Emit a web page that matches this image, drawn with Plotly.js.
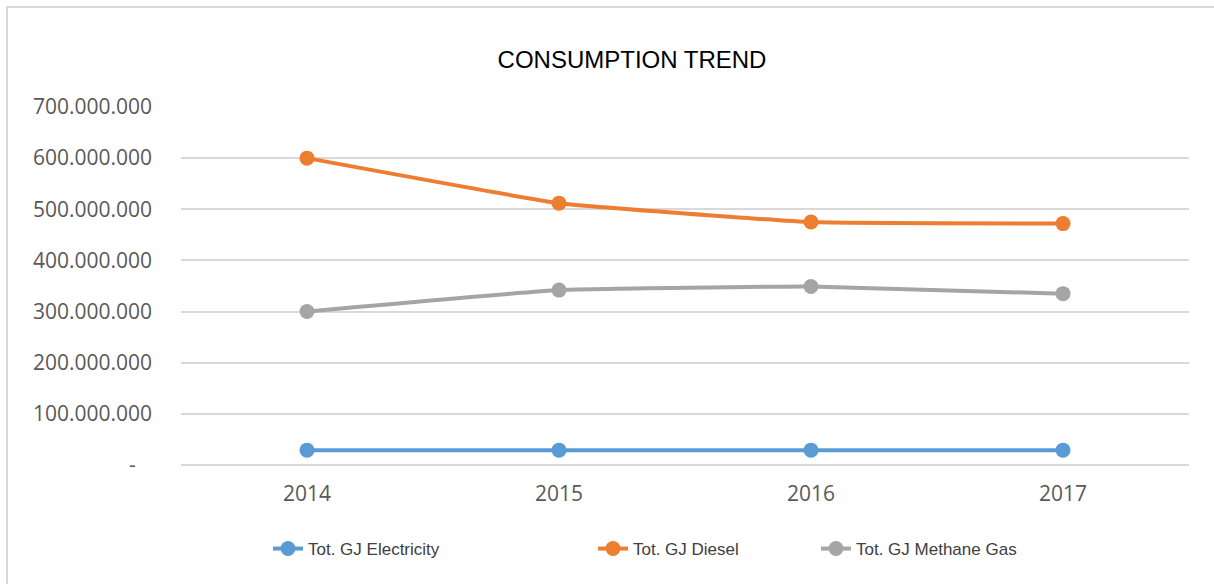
<!DOCTYPE html>
<html>
<head>
<meta charset="utf-8">
<script src="https://cdn.plot.ly/plotly-3.0.1.min.js"></script>
<style>
  html, body { margin: 0; padding: 0; background: #ffffff; }
  #wrap { position: relative; width: 1214px; height: 584px; overflow: hidden; }
  #chart { position: absolute; left: 0; top: 0; width: 1214px; height: 584px; }
  #frame { position: absolute; left: 6px; top: 6px; width: 1220px; height: 600px;
           border-left: 2px solid #d9d9d9; border-top: 2px solid #d9d9d9; pointer-events: none; }
</style>
</head>
<body>
<div id="wrap">
  <div id="chart"></div>
  <div id="frame"></div>
</div>
<script>
// ---- data ----
const years = ["2014", "2015", "2016", "2017"];
const electricity = [29000000, 29000000, 29000000, 29000000];
const diesel = [600000000, 512000000, 475000000, 472000000];
const methane = [300000000, 342000000, 349000000, 335000000];
const seriesNames = ["Tot. GJ Electricity", "Tot. GJ Diesel", "Tot. GJ Methane Gas"];
const yTickVals = [0, 100000000, 200000000, 300000000, 400000000, 500000000, 600000000, 700000000];
const yTickText = ["-\u00a0\u00a0\u00a0", "100.000.000", "200.000.000", "300.000.000", "400.000.000", "500.000.000", "600.000.000", "700.000.000"];
const chartTitle = "CONSUMPTION TREND";

const colors = ["#5B9BD5", "#ED7D31", "#A5A5A5"];
const allSeries = [electricity, diesel, methane];
const legendIds = ["legend", "legend2", "legend3"];

const traces = allSeries.map((vals, i) => ({
  type: "scatter",
  mode: "lines+markers",
  x: years,
  y: vals,
  name: seriesNames[i],
  legend: legendIds[i],
  line: { color: colors[i], width: 4, shape: "spline", smoothing: 0.3 },
  marker: { color: colors[i], size: 15 },
  hoverinfo: "x+y+name"
}));

const W = 1214, H = 584;
const L = 181, R = 25, T = 107, B = 119;
const pw = W - L - R, ph = H - T - B;
function px(x) { return (x - L) / pw; }
function py(y) { return (H - B - y) / ph; }

const legFont = { family: "'Liberation Sans', Arial, sans-serif", size: 17, color: "#404040" };
function legendAt(xpx) {
  return {
    orientation: "h", x: px(xpx), xanchor: "left", y: py(549), yanchor: "middle",
    font: legFont, bgcolor: "rgba(0,0,0,0)", borderwidth: 0, itemwidth: 30
  };
}

const layout = {
  width: W, height: H,
  paper_bgcolor: "#ffffff", plot_bgcolor: "#ffffff",
  margin: { l: L, r: R, t: T, b: B, pad: 0 },
  title: {
    text: chartTitle,
    font: { family: "'Liberation Sans Narrow', 'Arial Narrow', 'Liberation Sans', sans-serif", size: 24, color: "#000000" },
    x: 632 / W, xref: "container", xanchor: "center",
    y: (H - 60) / H, yref: "container", yanchor: "middle"
  },
  xaxis: {
    type: "category",
    range: [-0.5, 3.5],
    showgrid: false, zeroline: false, showline: false, ticks: "",
    tickfont: { family: "'Open Sans', sans-serif", size: 21, color: "#595959" },
    ticklabelstandoff: 14,
    fixedrange: true
  },
  yaxis: {
    range: [0, 700000000],
    tickvals: yTickVals, ticktext: yTickText,
    showgrid: true, gridcolor: "#d9d9d9", gridwidth: 1.5,
    zeroline: true, zerolinecolor: "#d9d9d9", zerolinewidth: 1.5,
    showline: false, ticks: "",
    tickfont: { family: "'Open Sans', sans-serif", size: 21, color: "#595959" },
    ticklabelstandoff: 28,
    fixedrange: true
  },
  legend: legendAt(268),
  legend2: legendAt(593),
  legend3: legendAt(816),
  showlegend: true
};

Plotly.newPlot("chart", traces, layout, { displayModeBar: false, staticPlot: false, responsive: false });
</script>
</body>
</html>
